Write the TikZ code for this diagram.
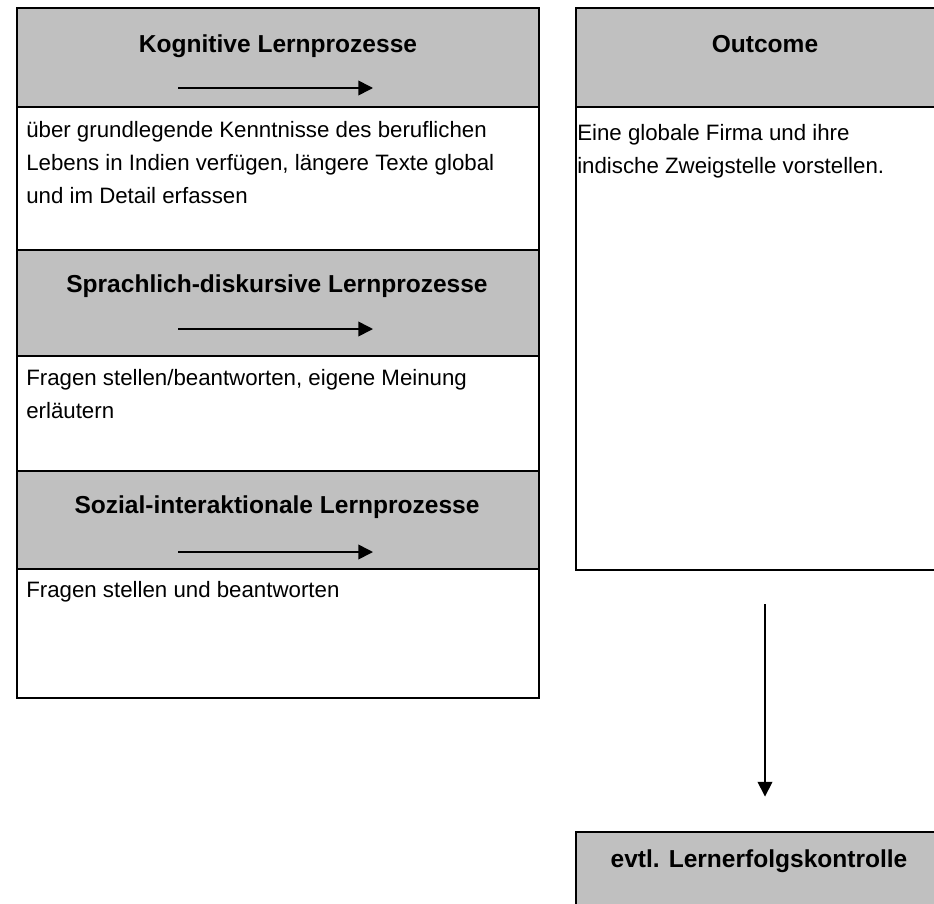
\documentclass[tikz,border=0pt]{standalone}
\usepackage{fontspec}
\setmainfont{Liberation Sans}
\usetikzlibrary{arrows.meta}
\definecolor{headgray}{RGB}{192,192,192}

\begin{document}
\begin{tikzpicture}[x=0.75pt, y=-0.75pt,
  head/.style={rectangle, fill=headgray, draw=black, line width=2.2pt, inner sep=0pt},
  bodybox/.style={rectangle, draw=black, line width=2.2pt, inner sep=0pt},
  title/.style={anchor=base, inner sep=0pt, font=\fontsize{18.4}{22}\selectfont\bfseries},
  bodytext/.style={anchor=base west, align=left, inner sep=0pt, font=\fontsize{16.7}{24.75}\selectfont},
  flow/.style={-{Triangle[length=11pt, width=11pt]}, line width=1.2pt}]
\clip (0,0) rectangle (934,903);

% Left column: three learning processes
% (multi-line texts are placed by the baseline of their last line)
\node[bodybox, minimum width=391.5pt, minimum height=107.25pt] (kogBody) at (278,178.5) {};
\node[head, minimum width=391.5pt, minimum height=74.25pt] (kogHead) at (278,57.5) {};
\node[title] (kogTitle) at (278,52) {Kognitive Lernprozesse};
\coordinate (kogFrom) at (178,88);
\coordinate (kogTo) at (373,88);
\draw[flow] (kogFrom) -- (kogTo);
\node[bodytext] (kogText) at (26,203) {über grundlegende Kenntnisse des beruflichen\\Lebens in Indien verfügen, längere Texte global\\und im Detail erfassen};

\node[bodybox, minimum width=391.5pt, minimum height=86.25pt] (sprBody) at (278,413.5) {};
\node[head, minimum width=391.5pt, minimum height=79.5pt] (sprHead) at (278,303) {};
\node[title] (sprTitle) at (277,292) {Sprachlich-diskursive Lernprozesse};
\coordinate (sprFrom) at (178,329);
\coordinate (sprTo) at (373,329);
\draw[flow] (sprFrom) -- (sprTo);
\node[bodytext] (sprText) at (26,418) {Fragen stellen/beantworten, eigene Meinung\\erläutern};

\node[bodybox, minimum width=391.5pt, minimum height=96.75pt] (sozBody) at (278,633.5) {};
\node[head, minimum width=391.5pt, minimum height=73.5pt] (sozHead) at (278,520) {};
\node[title] (sozTitle) at (277,513) {Sozial-interaktionale Lernprozesse};
\coordinate (sozFrom) at (178,552);
\coordinate (sozTo) at (373,552);
\draw[flow] (sozFrom) -- (sozTo);
\node[bodytext] (sozText) at (26,597) {Fragen stellen und beantworten};

% Right column: outcome and control
\node[bodybox, minimum width=283.5pt, minimum height=347.25pt] (outBody) at (765,338.5) {};
\node[head, minimum width=283.5pt, minimum height=74.25pt] (outHead) at (765,57.5) {};
\node[title] (outTitle) at (765,52) {Outcome};
\node[bodytext] (outText) at (577,173) {Eine globale Firma und ihre\\indische Zweigstelle vorstellen.};

\node[head, minimum width=283.5pt, minimum height=74.25pt] (kontrolle) at (765,881.5) {};
\node[title] (kontrolleTitle) at (759,867) {evtl. Lernerfolgskontrolle};

\draw[flow, shorten <=24.75pt, shorten >=25.5pt] (outBody) -- (kontrolle);
\end{tikzpicture}
\end{document}
